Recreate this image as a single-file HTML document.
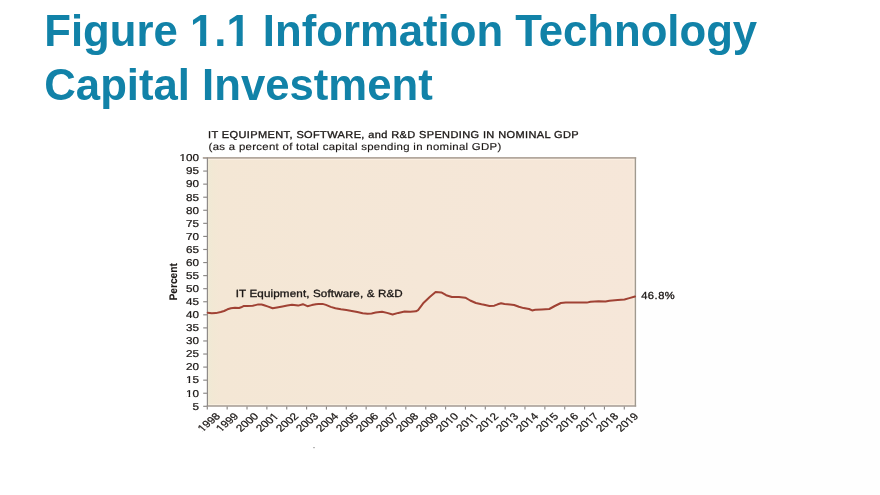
<!DOCTYPE html>
<html><head><meta charset="utf-8"><style>
html,body{margin:0;padding:0;background:#fff;}
body{width:880px;height:495px;position:relative;overflow:hidden;}
.bg2{position:absolute;left:640px;top:300px;width:240px;height:195px;background:#fefefe;}
h1{position:absolute;left:44.3px;top:4.2px;margin:0;font:bold 43.7px/53.6px "Liberation Sans",Arial,sans-serif;color:#1182a8;white-space:nowrap;filter:blur(0.3px);}
svg{position:absolute;left:0;top:0;text-rendering:geometricPrecision;filter:blur(0.3px);}
.ax,.t1{font:10.0px "Liberation Sans",Arial,sans-serif;fill:#1b1715;stroke:#1b1715;stroke-width:0.32px;}
.ax{stroke-width:0.24px;}
.pc{font:bold 10.2px "Liberation Sans",Arial,sans-serif;fill:#1b1715;stroke:#1b1715;stroke-width:0.1px;}
.one{display:inline-block;clip-path:polygon(-20px -20px,60px -20px,60px 36.8px,16.3px 36.8px,16.3px 70px,10.1px 70px,10.1px 36.8px,-20px 36.8px);}
.tk{stroke:#8a8785;stroke-width:1.15;}
</style></head><body>
<div class="bg2"></div>
<h1>Figure <span class="one">1</span>.<span class="one">1</span> Information Technology<br>Capital Investment</h1>
<svg width="880" height="495" viewBox="0 0 880 495">
<defs><clipPath id="fc0" clipPathUnits="userSpaceOnUse"><rect x="-100" y="-100" width="200" height="98.000"/><rect x="-100.000" y="-2.000" width="83.696" height="100"/><rect x="-14.539" y="-2.000" width="1.616" height="100"/><rect x="-11.236" y="-2.000" width="111.236" height="100"/></clipPath><clipPath id="fc1" clipPathUnits="userSpaceOnUse"><rect x="-100" y="-100" width="200" height="98.000"/><rect x="-100.000" y="-2.000" width="89.259" height="100"/><rect x="-8.977" y="-2.000" width="1.616" height="100"/><rect x="-5.674" y="-2.000" width="105.674" height="100"/></clipPath><clipPath id="fc2" clipPathUnits="userSpaceOnUse"><rect x="-100" y="-100" width="200" height="98.000"/><rect x="-100.000" y="-2.000" width="89.259" height="100"/><rect x="-8.977" y="-2.000" width="1.616" height="100"/><rect x="-5.674" y="-2.000" width="105.674" height="100"/></clipPath><clipPath id="fc3" clipPathUnits="userSpaceOnUse"><rect x="-100" y="-100" width="200" height="98.000"/><rect x="-100.000" y="-2.000" width="89.471" height="100"/><rect x="-8.793" y="-2.000" width="1.584" height="100"/><rect x="-5.550" y="-2.000" width="105.550" height="100"/></clipPath><clipPath id="fc4" clipPathUnits="userSpaceOnUse"><rect x="-100" y="-100" width="200" height="98.000"/><rect x="-100.000" y="-2.000" width="89.471" height="100"/><rect x="-8.793" y="-2.000" width="1.584" height="100"/><rect x="-5.550" y="-2.000" width="105.550" height="100"/></clipPath><clipPath id="fc5" clipPathUnits="userSpaceOnUse"><rect x="-100" y="-100" width="200" height="98.000"/><rect x="-100.000" y="-2.000" width="105.815" height="100"/><rect x="7.551" y="-2.000" width="1.584" height="100"/><rect x="10.794" y="-2.000" width="89.206" height="100"/></clipPath><clipPath id="fc6" clipPathUnits="userSpaceOnUse"><rect x="-100" y="-100" width="200" height="98.000"/><rect x="-100.000" y="-2.000" width="100.362" height="100"/><rect x="2.098" y="-2.000" width="1.584" height="100"/><rect x="5.341" y="-2.000" width="94.659" height="100"/></clipPath><clipPath id="fc7" clipPathUnits="userSpaceOnUse"><rect x="-100" y="-100" width="200" height="98.000"/><rect x="-100.000" y="-2.000" width="100.721" height="100"/><rect x="2.457" y="-2.000" width="1.584" height="100"/><rect x="7.176" y="-2.000" width="1.584" height="100"/><rect x="10.419" y="-2.000" width="89.581" height="100"/></clipPath><clipPath id="fc8" clipPathUnits="userSpaceOnUse"><rect x="-100" y="-100" width="200" height="98.000"/><rect x="-100.000" y="-2.000" width="100.362" height="100"/><rect x="2.098" y="-2.000" width="1.584" height="100"/><rect x="5.341" y="-2.000" width="94.659" height="100"/></clipPath><clipPath id="fc9" clipPathUnits="userSpaceOnUse"><rect x="-100" y="-100" width="200" height="98.000"/><rect x="-100.000" y="-2.000" width="100.362" height="100"/><rect x="2.098" y="-2.000" width="1.584" height="100"/><rect x="5.341" y="-2.000" width="94.659" height="100"/></clipPath><clipPath id="fc10" clipPathUnits="userSpaceOnUse"><rect x="-100" y="-100" width="200" height="98.000"/><rect x="-100.000" y="-2.000" width="100.362" height="100"/><rect x="2.098" y="-2.000" width="1.584" height="100"/><rect x="5.341" y="-2.000" width="94.659" height="100"/></clipPath><clipPath id="fc11" clipPathUnits="userSpaceOnUse"><rect x="-100" y="-100" width="200" height="98.000"/><rect x="-100.000" y="-2.000" width="100.362" height="100"/><rect x="2.098" y="-2.000" width="1.584" height="100"/><rect x="5.341" y="-2.000" width="94.659" height="100"/></clipPath><clipPath id="fc12" clipPathUnits="userSpaceOnUse"><rect x="-100" y="-100" width="200" height="98.000"/><rect x="-100.000" y="-2.000" width="100.362" height="100"/><rect x="2.098" y="-2.000" width="1.584" height="100"/><rect x="5.341" y="-2.000" width="94.659" height="100"/></clipPath><clipPath id="fc13" clipPathUnits="userSpaceOnUse"><rect x="-100" y="-100" width="200" height="98.000"/><rect x="-100.000" y="-2.000" width="100.362" height="100"/><rect x="2.098" y="-2.000" width="1.584" height="100"/><rect x="5.341" y="-2.000" width="94.659" height="100"/></clipPath><clipPath id="fc14" clipPathUnits="userSpaceOnUse"><rect x="-100" y="-100" width="200" height="98.000"/><rect x="-100.000" y="-2.000" width="100.362" height="100"/><rect x="2.098" y="-2.000" width="1.584" height="100"/><rect x="5.341" y="-2.000" width="94.659" height="100"/></clipPath><clipPath id="fc15" clipPathUnits="userSpaceOnUse"><rect x="-100" y="-100" width="200" height="98.000"/><rect x="-100.000" y="-2.000" width="100.362" height="100"/><rect x="2.098" y="-2.000" width="1.584" height="100"/><rect x="5.341" y="-2.000" width="94.659" height="100"/></clipPath><linearGradient id="bg" x1="0" y1="0" x2="1" y2="0"><stop offset="0" stop-color="#efead6"/><stop offset="0.012" stop-color="#f2e8d4"/><stop offset="0.03" stop-color="#f4e7d5"/><stop offset="0.5" stop-color="#f5e7d7"/><stop offset="1" stop-color="#f6e7d9"/></linearGradient></defs>
<rect x="207.3" y="158.0" width="428.2" height="248.3" fill="url(#bg)"/>
<line x1="203.2" y1="158.00" x2="207.3" y2="158.00" class="tk"/>
<text class="ax" text-anchor="end" transform="translate(198.9,161.30) scale(1.17,1)" clip-path="url(#fc0)">100</text>
<line x1="203.2" y1="171.07" x2="207.3" y2="171.07" class="tk"/>
<text class="ax" text-anchor="end" transform="translate(198.9,174.37) scale(1.17,1)">95</text>
<line x1="203.2" y1="184.14" x2="207.3" y2="184.14" class="tk"/>
<text class="ax" text-anchor="end" transform="translate(198.9,187.44) scale(1.17,1)">90</text>
<line x1="203.2" y1="197.21" x2="207.3" y2="197.21" class="tk"/>
<text class="ax" text-anchor="end" transform="translate(198.9,200.51) scale(1.17,1)">85</text>
<line x1="203.2" y1="210.27" x2="207.3" y2="210.27" class="tk"/>
<text class="ax" text-anchor="end" transform="translate(198.9,213.57) scale(1.17,1)">80</text>
<line x1="203.2" y1="223.34" x2="207.3" y2="223.34" class="tk"/>
<text class="ax" text-anchor="end" transform="translate(198.9,226.64) scale(1.17,1)">75</text>
<line x1="203.2" y1="236.41" x2="207.3" y2="236.41" class="tk"/>
<text class="ax" text-anchor="end" transform="translate(198.9,239.71) scale(1.17,1)">70</text>
<line x1="203.2" y1="249.48" x2="207.3" y2="249.48" class="tk"/>
<text class="ax" text-anchor="end" transform="translate(198.9,252.78) scale(1.17,1)">65</text>
<line x1="203.2" y1="262.55" x2="207.3" y2="262.55" class="tk"/>
<text class="ax" text-anchor="end" transform="translate(198.9,265.85) scale(1.17,1)">60</text>
<line x1="203.2" y1="275.62" x2="207.3" y2="275.62" class="tk"/>
<text class="ax" text-anchor="end" transform="translate(198.9,278.92) scale(1.17,1)">55</text>
<line x1="203.2" y1="288.68" x2="207.3" y2="288.68" class="tk"/>
<text class="ax" text-anchor="end" transform="translate(198.9,291.98) scale(1.17,1)">50</text>
<line x1="203.2" y1="301.75" x2="207.3" y2="301.75" class="tk"/>
<text class="ax" text-anchor="end" transform="translate(198.9,305.05) scale(1.17,1)">45</text>
<line x1="203.2" y1="314.82" x2="207.3" y2="314.82" class="tk"/>
<text class="ax" text-anchor="end" transform="translate(198.9,318.12) scale(1.17,1)">40</text>
<line x1="203.2" y1="327.89" x2="207.3" y2="327.89" class="tk"/>
<text class="ax" text-anchor="end" transform="translate(198.9,331.19) scale(1.17,1)">35</text>
<line x1="203.2" y1="340.96" x2="207.3" y2="340.96" class="tk"/>
<text class="ax" text-anchor="end" transform="translate(198.9,344.26) scale(1.17,1)">30</text>
<line x1="203.2" y1="354.03" x2="207.3" y2="354.03" class="tk"/>
<text class="ax" text-anchor="end" transform="translate(198.9,357.33) scale(1.17,1)">25</text>
<line x1="203.2" y1="367.09" x2="207.3" y2="367.09" class="tk"/>
<text class="ax" text-anchor="end" transform="translate(198.9,370.39) scale(1.17,1)">20</text>
<line x1="203.2" y1="380.16" x2="207.3" y2="380.16" class="tk"/>
<text class="ax" text-anchor="end" transform="translate(198.9,383.46) scale(1.17,1)" clip-path="url(#fc1)">15</text>
<line x1="203.2" y1="393.23" x2="207.3" y2="393.23" class="tk"/>
<text class="ax" text-anchor="end" transform="translate(198.9,396.53) scale(1.17,1)" clip-path="url(#fc2)">10</text>
<line x1="203.2" y1="406.30" x2="207.3" y2="406.30" class="tk"/>
<text class="ax" text-anchor="end" transform="translate(198.9,409.60) scale(1.17,1)">5</text>
<line x1="207.30" y1="406.3" x2="207.30" y2="409.6" class="tk"/>
<text class="ax" text-anchor="middle" transform="translate(208.80,422.10) scale(1.2,1) rotate(-45) translate(0,3.4)" style="font-size:9.8px" clip-path="url(#fc3)">1998</text>
<line x1="227.16" y1="406.3" x2="227.16" y2="409.6" class="tk"/>
<text class="ax" text-anchor="middle" transform="translate(227.00,422.10) scale(1.2,1) rotate(-45) translate(0,3.4)" style="font-size:9.8px" clip-path="url(#fc4)">1999</text>
<line x1="247.01" y1="406.3" x2="247.01" y2="409.6" class="tk"/>
<text class="ax" text-anchor="middle" transform="translate(247.00,422.10) scale(1.2,1) rotate(-45) translate(0,3.4)" style="font-size:9.8px">2000</text>
<line x1="266.87" y1="406.3" x2="266.87" y2="409.6" class="tk"/>
<text class="ax" text-anchor="middle" transform="translate(267.00,422.10) scale(1.2,1) rotate(-45) translate(0,3.4)" style="font-size:9.8px" clip-path="url(#fc5)">2001</text>
<line x1="286.73" y1="406.3" x2="286.73" y2="409.6" class="tk"/>
<text class="ax" text-anchor="middle" transform="translate(287.00,422.10) scale(1.2,1) rotate(-45) translate(0,3.4)" style="font-size:9.8px">2002</text>
<line x1="306.59" y1="406.3" x2="306.59" y2="409.6" class="tk"/>
<text class="ax" text-anchor="middle" transform="translate(307.00,422.10) scale(1.2,1) rotate(-45) translate(0,3.4)" style="font-size:9.8px">2003</text>
<line x1="326.44" y1="406.3" x2="326.44" y2="409.6" class="tk"/>
<text class="ax" text-anchor="middle" transform="translate(327.00,422.10) scale(1.2,1) rotate(-45) translate(0,3.4)" style="font-size:9.8px">2004</text>
<line x1="346.30" y1="406.3" x2="346.30" y2="409.6" class="tk"/>
<text class="ax" text-anchor="middle" transform="translate(347.00,422.10) scale(1.2,1) rotate(-45) translate(0,3.4)" style="font-size:9.8px">2005</text>
<line x1="366.16" y1="406.3" x2="366.16" y2="409.6" class="tk"/>
<text class="ax" text-anchor="middle" transform="translate(367.00,422.10) scale(1.2,1) rotate(-45) translate(0,3.4)" style="font-size:9.8px">2006</text>
<line x1="386.01" y1="406.3" x2="386.01" y2="409.6" class="tk"/>
<text class="ax" text-anchor="middle" transform="translate(387.00,422.10) scale(1.2,1) rotate(-45) translate(0,3.4)" style="font-size:9.8px">2007</text>
<line x1="405.87" y1="406.3" x2="405.87" y2="409.6" class="tk"/>
<text class="ax" text-anchor="middle" transform="translate(407.00,422.10) scale(1.2,1) rotate(-45) translate(0,3.4)" style="font-size:9.8px">2008</text>
<line x1="425.73" y1="406.3" x2="425.73" y2="409.6" class="tk"/>
<text class="ax" text-anchor="middle" transform="translate(427.00,422.10) scale(1.2,1) rotate(-45) translate(0,3.4)" style="font-size:9.8px">2009</text>
<line x1="445.59" y1="406.3" x2="445.59" y2="409.6" class="tk"/>
<text class="ax" text-anchor="middle" transform="translate(447.00,422.10) scale(1.2,1) rotate(-45) translate(0,3.4)" style="font-size:9.8px" clip-path="url(#fc6)">2010</text>
<line x1="465.44" y1="406.3" x2="465.44" y2="409.6" class="tk"/>
<text class="ax" text-anchor="middle" transform="translate(467.00,422.10) scale(1.2,1) rotate(-45) translate(0,3.4)" style="font-size:9.8px" clip-path="url(#fc7)">2011</text>
<line x1="485.30" y1="406.3" x2="485.30" y2="409.6" class="tk"/>
<text class="ax" text-anchor="middle" transform="translate(487.00,422.10) scale(1.2,1) rotate(-45) translate(0,3.4)" style="font-size:9.8px" clip-path="url(#fc8)">2012</text>
<line x1="505.16" y1="406.3" x2="505.16" y2="409.6" class="tk"/>
<text class="ax" text-anchor="middle" transform="translate(507.00,422.10) scale(1.2,1) rotate(-45) translate(0,3.4)" style="font-size:9.8px" clip-path="url(#fc9)">2013</text>
<line x1="525.01" y1="406.3" x2="525.01" y2="409.6" class="tk"/>
<text class="ax" text-anchor="middle" transform="translate(527.00,422.10) scale(1.2,1) rotate(-45) translate(0,3.4)" style="font-size:9.8px" clip-path="url(#fc10)">2014</text>
<line x1="544.87" y1="406.3" x2="544.87" y2="409.6" class="tk"/>
<text class="ax" text-anchor="middle" transform="translate(547.00,422.10) scale(1.2,1) rotate(-45) translate(0,3.4)" style="font-size:9.8px" clip-path="url(#fc11)">2015</text>
<line x1="564.73" y1="406.3" x2="564.73" y2="409.6" class="tk"/>
<text class="ax" text-anchor="middle" transform="translate(567.00,422.10) scale(1.2,1) rotate(-45) translate(0,3.4)" style="font-size:9.8px" clip-path="url(#fc12)">2016</text>
<line x1="584.59" y1="406.3" x2="584.59" y2="409.6" class="tk"/>
<text class="ax" text-anchor="middle" transform="translate(587.00,422.10) scale(1.2,1) rotate(-45) translate(0,3.4)" style="font-size:9.8px" clip-path="url(#fc13)">2017</text>
<line x1="604.44" y1="406.3" x2="604.44" y2="409.6" class="tk"/>
<text class="ax" text-anchor="middle" transform="translate(607.00,422.10) scale(1.2,1) rotate(-45) translate(0,3.4)" style="font-size:9.8px" clip-path="url(#fc14)">2018</text>
<line x1="624.30" y1="406.3" x2="624.30" y2="409.6" class="tk"/>
<text class="ax" text-anchor="middle" transform="translate(627.00,422.10) scale(1.2,1) rotate(-45) translate(0,3.4)" style="font-size:9.8px" clip-path="url(#fc15)">2019</text>
<line x1="208.3" y1="159.4" x2="634.5" y2="159.4" stroke="#fcf0e3" stroke-width="1"/>
<line x1="208.3" y1="404.7" x2="634.5" y2="404.7" stroke="#faf0e2" stroke-width="1"/>
<line x1="634.0" y1="158.0" x2="634.0" y2="406.3" stroke="#fcefe2" stroke-width="1"/>
<line x1="202.8" y1="157.9" x2="636.2" y2="157.9" stroke="#b3a89e" stroke-width="1.6"/>
<line x1="206.70000000000002" y1="406.1" x2="636.2" y2="406.1" stroke="#a59d96" stroke-width="1.5"/>
<line x1="207.4" y1="157.5" x2="207.4" y2="406.5" stroke="#8f8b89" stroke-width="1.2"/>
<line x1="635.4" y1="157.5" x2="635.4" y2="406.5" stroke="#a09a90" stroke-width="1.4"/>
<path d="M207.7,312.7 L211.8,313.3 L215.9,313.1 L220.7,312.0 L224.1,311.0 L227.5,309.3 L230.9,308.3 L235.0,307.7 L239.1,308.0 L241.1,307.3 L243.5,306.1 L247.3,305.9 L252.7,305.8 L255.4,305.1 L258.2,304.4 L261.6,304.5 L264.1,305.2 L268.2,306.6 L272.6,308.3 L277.0,307.5 L282.5,306.5 L287.3,305.6 L292.0,304.7 L298.2,305.6 L302.9,304.2 L307.4,306.2 L311.8,305.1 L315.9,304.2 L318.4,304.1 L322.5,303.9 L325.9,304.9 L330.7,306.9 L335.4,308.3 L340.9,309.3 L346.4,310.1 L351.8,310.9 L357.3,312.0 L362.7,313.3 L367.5,313.7 L371.6,313.4 L375.7,312.6 L382.0,311.7 L387.0,312.9 L392.6,314.5 L398.3,312.9 L404.6,311.5 L410.3,311.7 L415.9,311.3 L418.1,310.1 L423.7,302.7 L430.0,296.7 L435.6,292.1 L441.3,292.4 L446.2,295.2 L451.9,297.0 L458.9,296.9 L465.3,297.7 L470.2,300.5 L475.9,303.0 L481.5,304.3 L484.1,304.7 L489.5,306.0 L494.3,305.7 L497.7,304.3 L501.1,303.2 L504.5,304.0 L510.0,304.5 L514.1,305.0 L518.9,306.7 L523.6,308.1 L529.1,309.0 L532.1,310.4 L535.2,309.8 L541.8,309.4 L549.3,309.0 L554.8,306.0 L560.9,303.0 L565.7,302.5 L575.9,302.5 L586.8,302.6 L590.5,301.7 L598.6,301.2 L605.5,301.4 L609.5,300.7 L617.7,300.1 L624.5,299.5 L629.3,298.1 L635.0,296.5" fill="none" stroke="#a04234" stroke-width="2" stroke-linejoin="round" stroke-linecap="round"/>
<text class="t1" transform="translate(208.1,137.9) scale(1.1,1)" textLength="336.82">IT EQUIPMENT, SOFTWARE, and R&amp;D SPENDING IN NOMINAL GDP</text>
<text class="t1" transform="translate(208.6,149.8) scale(1.14,1)" textLength="256.75" style="stroke-width:0.15px;">(as a percent of total capital spending in nominal GDP)</text>
<text class="t1" transform="translate(235.7,296.8) scale(1.12,1)" textLength="149.20" style="font-size:10.4px;">IT Equipment, Software, &amp; R&amp;D</text>
<text class="t1" transform="translate(641.2,299.0) scale(1.08,1)" textLength="31.02" style="font-size:10.3px;">46.8%</text>
<text class="pc" text-anchor="middle" transform="translate(177.3,281.8) scale(1.08,1) rotate(-90)">Percent</text>
<rect x="313" y="447" width="2" height="1.2" fill="#b8b8b8"/>
</svg>
</body></html>
